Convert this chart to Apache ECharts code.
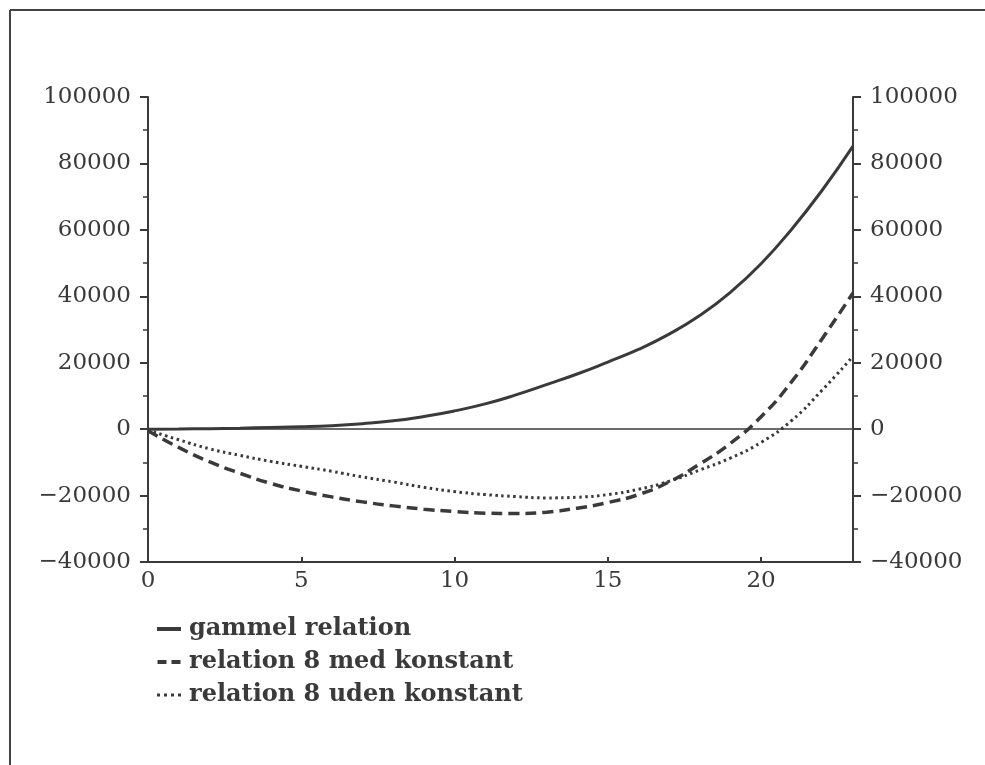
<!DOCTYPE html>
<html>
<head>
<meta charset="utf-8">
<script src="https://cdn.jsdelivr.net/npm/echarts@6/dist/echarts.min.js"></script>
<style>html,body{margin:0;padding:0;background:#fff}#c{width:985px;height:765px}</style>
</head>
<body>
<div id="c"></div>
<script>
const xValues = [0,1,2,3,4,5,6,7,8,9,10,11,12,13,14,15,16,17,18,19,20,21,22,23];
const gammel = [0,50,150,300,480,700,1050,1650,2500,3800,5500,7600,10300,13400,16600,20200,24000,28600,34200,41200,49800,60200,72000,85200];
const medKonstant = [-500,-5500,-9800,-13300,-16300,-18600,-20400,-21900,-23100,-24100,-24800,-25300,-25400,-25000,-23800,-22100,-19700,-15900,-10500,-4300,3700,14300,27300,41000];
const udenKonstant = [-300,-3200,-5900,-7900,-9700,-11200,-12700,-14400,-15900,-17500,-18800,-19700,-20300,-20700,-20500,-19700,-18100,-15700,-12300,-8700,-4000,2600,11800,21900];
const seriesNames = ['gammel relation','relation 8 med konstant','relation 8 uden konstant'];
const yTicks = {min:-40000, max:100000, interval:20000};
const xTicks = {min:0, max:23, interval:5};

const ink = '#3a3a3a';
const font = 'DejaVu Serif';
const pairs = arr => arr.map((v,i)=>[xValues[i], v]);
const fmtY = v => String(v).replace('-', '\u2212');

const yBase = {
  type:'value', min:yTicks.min, max:yTicks.max, interval:yTicks.interval,
  splitLine:{show:false},
  axisLine:{show:true, lineStyle:{color:ink, width:2}},
  axisTick:{show:true, inside:false, length:8, lineStyle:{color:ink, width:2}},
  minorTick:{show:true, splitNumber:2, length:5, lineStyle:{color:ink, width:1.5}},
  axisLabel:{color:ink, fontFamily:font, fontSize:23, margin:17, formatter:fmtY}
};

const icons = [
  'path://M0,0H24V4H0Z',
  'path://M0,0H9V4H0Z M14,0H23V4H14Z',
  'path://M0,1H3V4H0Z M7,1H10V4H7Z M14,1H17V4H14Z M21,1H24V4H21Z'
];

const chart = echarts.init(document.getElementById('c'));
chart.setOption({
  animation:false,
  backgroundColor:'#fff',
  grid:{left:148, right:132, top:97, bottom:203},
  graphic:[
    {type:'line', shape:{x1:10, y1:10, x2:985, y2:10}, style:{stroke:'#444', lineWidth:2}},
    {type:'line', shape:{x1:10, y1:10, x2:10, y2:765}, style:{stroke:'#444', lineWidth:2}}
  ],
  legend:{
    orient:'vertical', left:152, top:612, itemGap:9, itemWidth:24, itemHeight:4,
    textStyle:{color:ink, fontFamily:font, fontSize:24, fontWeight:'bold', padding:[0,0,0,3]},
    data:seriesNames.map((n,i)=>({name:n, icon:icons[i]}))
  },
  xAxis:{
    type:'value', min:xTicks.min, max:xTicks.max, interval:xTicks.interval,
    splitLine:{show:false},
    axisLine:{onZero:false, lineStyle:{color:ink, width:2}},
    axisTick:{inside:true, length:5, lineStyle:{color:ink, width:2}},
    axisLabel:{color:ink, fontFamily:font, fontSize:23, margin:8, showMaxLabel:false,
      formatter:v => (v % 5 === 0 ? String(v) : '')}
  },
  yAxis:[
    Object.assign({}, yBase, {position:'left'}),
    Object.assign({}, yBase, {position:'right'})
  ],
  series:[
    {name:seriesNames[0], type:'line', smooth:true, symbol:'none', data:pairs(gammel),
      lineStyle:{color:ink, width:3, type:'solid'}, itemStyle:{color:ink},
      markLine:{silent:true, symbol:'none', label:{show:false},
        lineStyle:{color:ink, width:1.5, type:'solid'}, data:[{yAxis:0}]}},
    {name:seriesNames[1], type:'line', smooth:true, symbol:'none', data:pairs(medKonstant),
      lineStyle:{color:ink, width:3.5, type:[11,6]}, itemStyle:{color:ink}},
    {name:seriesNames[2], type:'line', smooth:true, symbol:'none', data:pairs(udenKonstant),
      lineStyle:{color:ink, width:3, type:[2.5,3.5]}, itemStyle:{color:ink}}
  ]
});
</script>
</body>
</html>
